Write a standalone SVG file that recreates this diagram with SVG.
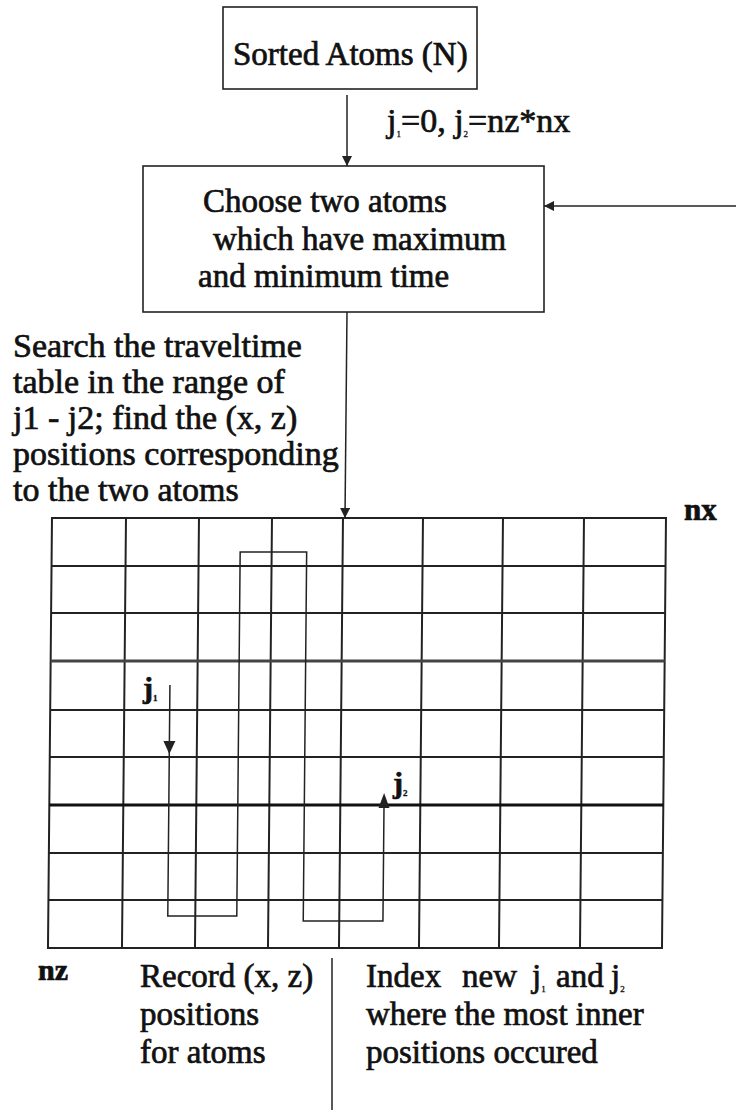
<svg xmlns="http://www.w3.org/2000/svg" width="736" height="1120" viewBox="0 0 736 1120">
<style>
.t{font-family:"Liberation Serif","Times New Roman",serif;fill:#111;stroke:#111;stroke-width:0.7}
.b{font-weight:bold}
.box{fill:none;stroke:#222;stroke-width:1.6}
.c{fill:none;stroke:#222;stroke-width:1.5}
.g{fill:none;stroke:#222;stroke-width:2}
.sub{font-size:9px;stroke-width:0.3}
</style>
<defs>
<marker id="ah" viewBox="0 0 10 10" refX="10" refY="5" markerUnits="userSpaceOnUse" markerWidth="12" markerHeight="10" orient="auto">
<path d="M0,0 L10,5 L0,10 z" fill="#222"/>
</marker>
</defs>
<rect width="736" height="1120" fill="#fff"/>

<g id="sorted-atoms">
<rect class="box" x="223" y="7" width="254" height="82"/>
<text class="t" x="233" y="65" font-size="33">Sorted Atoms (N)</text>
</g>

<g id="init-label">
<text class="t" x="387" y="132" font-size="34">j<tspan class="sub" dy="5">1</tspan><tspan dy="-5">=0, j</tspan><tspan class="sub" dy="5">2</tspan><tspan dy="-5">=nz*nx</tspan></text>
</g>

<g id="choose">
<rect class="box" x="143" y="166" width="401" height="146"/>
<text class="t" font-size="33"><tspan x="203" y="212">Choose two atoms</tspan><tspan x="213" y="250">which have maximum</tspan><tspan x="198" y="287">and minimum time</tspan></text>
</g>

<g id="search">
<text class="t" font-size="34"><tspan x="13" y="357">Search the traveltime</tspan><tspan x="13" y="393">table in the range of</tspan><tspan x="13" y="429">j1 - j2; find the (x, z)</tspan><tspan x="13" y="465">positions corresponding</tspan><tspan x="13" y="501">to the two atoms</tspan></text>
</g>

<g id="grid" transform="matrix(1,0,-0.0093,1,4.8,0)">
<rect class="g" x="52" y="518" width="614" height="430"/>
<path class="g" d="M126,518V948M199,518V948M272,518V948M343,518V948M423,518V948M503,518V948M584,518V948"/>
<path class="g" d="M52,566H666M52,613H666M52,710H666M52,757H666M52,853H666M52,900H666"/>
<path fill="none" stroke="#444" stroke-width="3" d="M52,661H666"/>
<path fill="none" stroke="#111" stroke-width="3.2" d="M52,805H666"/>
</g>

<g id="nx-label"><text class="t b" x="684" y="520" font-size="31">nx</text></g>
<g id="nz-label"><text class="t b" x="38" y="980" font-size="30">nz</text></g>

<g id="j1-label"><text class="t b" x="143" y="698" font-size="30">j<tspan class="sub" dy="3">1</tspan></text></g>
<g id="j2-label"><text class="t b" x="393" y="793" font-size="30">j<tspan class="sub" dy="3">2</tspan></text></g>

<g id="record">
<text class="t" font-size="33"><tspan x="140" y="987">Record (x, z)</tspan><tspan x="140" y="1025">positions</tspan><tspan x="140" y="1063">for atoms</tspan></text>
</g>

<g id="index">
<text class="t" font-size="33"><tspan x="366" y="987">Index</tspan><tspan x="462" y="987">new</tspan><tspan x="532" y="987">j</tspan><tspan class="sub" dy="5">1</tspan><tspan x="556" y="987">and</tspan><tspan x="611" y="987">j</tspan><tspan class="sub" dy="5">2</tspan><tspan x="366" y="1025">where the most inner</tspan><tspan x="366" y="1063">positions occured</tspan></text>
</g>

<g id="connectors">
<line class="c" x1="347" y1="95" x2="347" y2="166" marker-end="url(#ah)"/>
<line class="c" x1="736" y1="206" x2="544" y2="206" marker-end="url(#ah)"/>
<line class="c" x1="347" y1="312" x2="345" y2="518" marker-end="url(#ah)"/>
<line class="c" x1="332" y1="958" x2="332" y2="1110"/>
<g transform="matrix(1,0,-0.0093,1,4.8,0)">
<path class="c" d="M171.5,685V916H240.5V552H307V921H386.7V796"/>
<path d="M165.5,741L177.5,741L171.5,754z" fill="#222"/>
<path d="M381.2,808L392.2,808L386.7,793z" fill="#222"/>
</g>
</g>
</svg>
